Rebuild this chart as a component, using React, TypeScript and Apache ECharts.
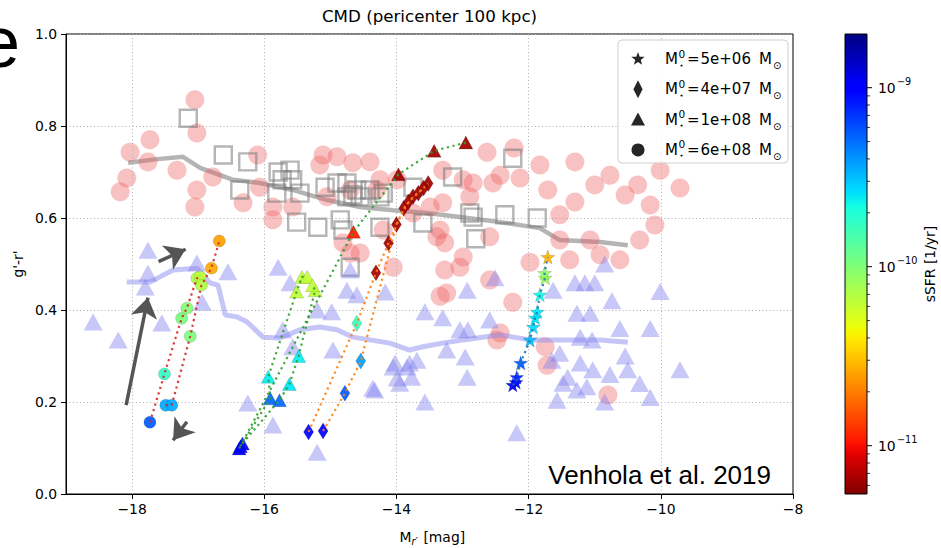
import React, { useEffect, useRef } from "react";
import * as echarts from "echarts";

// ---------- axes / ticks ----------
const X_MIN = -19;
const X_MAX = -8;
const X_TICKS = [-18, -16, -14, -12, -10, -8];
const Y_MIN = 0;
const Y_MAX = 1;
const Y_STEP = 0.2;
const CB_MIN = -11.27; // log10 sSFR at colorbar bottom
const CB_MAX = -8.7; // log10 sSFR at colorbar top
const CB_TICKS = [-11, -10, -9];
const CB_MINOR_DECADES = [-12, -11, -10, -9];

// ---------- observational background (x = M_r', y = g'-r') ----------
const PINK_CIRCLES = [
  [-17.05, 0.857], [-17.02, 0.785], [-17.73, 0.77], [-18.03, 0.743], [-17.76, 0.722], [-17.32, 0.704],
  [-18.08, 0.687], [-18.18, 0.657], [-17.02, 0.661], [-17.05, 0.624], [-16.78, 0.689], [-16.32, 0.633],
  [-16.1, 0.737], [-15.87, 0.596], [-15.11, 0.737], [-15.16, 0.715], [-14.66, 0.72], [-14.4, 0.722],
  [-14.81, 0.546], [-14.7, 0.524], [-13.99, 0.683], [-14.25, 0.683], [-13.3, 0.704], [-12.89, 0.646],
  [-13.39, 0.559], [-12.99, 0.515], [-14.9, 0.733], [-14.55, 0.524], [-14.2, 0.574], [-14.05, 0.493],
  [-12.99, 0.683], [-12.84, 0.676], [-13.49, 0.624], [-13.3, 0.633], [-13.34, 0.574], [-13.27, 0.546],
  [-13.27, 0.487], [-13.04, 0.493], [-13.24, 0.437], [-13.34, 0.43], [-12.54, 0.676], [-12.59, 0.465],
  [-12.48, 0.335], [-15.05, 0.646], [-14.7, 0.661], [-14.3, 0.661], [-13.75, 0.611], [-15.87, 0.624],
  [-16.07, 0.667], [-15.57, 0.624], [-12.63, 0.743], [-12.22, 0.752], [-12.43, 0.693], [-12.13, 0.687],
  [-11.83, 0.715], [-11.71, 0.661], [-11.53, 0.607], [-11.3, 0.722], [-11.3, 0.635], [-11.0, 0.672],
  [-10.77, 0.693], [-10.54, 0.65], [-10.35, 0.672], [-10.16, 0.628], [-10.09, 0.585], [-10.01, 0.704],
  [-9.71, 0.665], [-11.53, 0.552], [-11.07, 0.552], [-10.92, 0.52], [-10.62, 0.509], [-10.32, 0.552],
  [-10.8, 0.215], [-12.59, 0.559], [-11.98, 0.504], [-12.24, 0.417], [-12.43, 0.35], [-11.75, 0.32],
  [-11.72, 0.28], [-11.38, 0.509],
];

const GRAY_SQUARES = [
  [-17.15, 0.817], [-16.62, 0.737], [-16.25, 0.722], [-16.37, 0.661], [-15.79, 0.7], [-15.61, 0.704],
  [-15.73, 0.683], [-15.57, 0.683], [-15.46, 0.654], [-15.81, 0.654], [-15.08, 0.667], [-14.75, 0.676],
  [-14.66, 0.65], [-14.55, 0.646], [-14.25, 0.646], [-14.4, 0.661], [-15.51, 0.591], [-15.19, 0.58],
  [-14.85, 0.596], [-14.25, 0.58], [-13.15, 0.689], [-12.84, 0.602], [-12.8, 0.555], [-14.9, 0.676],
  [-14.75, 0.646], [-14.6, 0.661], [-14.2, 0.654], [-13.75, 0.667], [-12.89, 0.611], [-14.81, 0.574],
  [-14.7, 0.493], [-13.6, 0.589], [-12.24, 0.73], [-12.36, 0.607], [-11.87, 0.6],
];

const GRAY_LINE = [
  [-18.06, 0.72], [-17.62, 0.728], [-17.23, 0.733], [-16.97, 0.709], [-16.47, 0.683], [-16.07, 0.676],
  [-15.57, 0.661], [-15.05, 0.639], [-14.55, 0.624], [-14.05, 0.617], [-13.54, 0.611], [-13.04, 0.602],
  [-12.43, 0.591], [-11.83, 0.578], [-11.53, 0.552], [-10.92, 0.548], [-10.5, 0.541],
];

const LAV_TRIANGLES = [
  [-18.59, 0.374], [-18.21, 0.335], [-17.76, 0.53], [-17.76, 0.48], [-17.8, 0.45], [-17.55, 0.372],
  [-17.02, 0.502], [-16.55, 0.483], [-15.79, 0.493], [-15.61, 0.459], [-16.25, 0.198], [-15.87, 0.15],
  [-15.72, 0.357], [-15.57, 0.32], [-16.94, 0.417], [-15.2, 0.4], [-14.98, 0.396], [-14.96, 0.313],
  [-14.75, 0.443], [-14.6, 0.433], [-14.7, 0.487], [-14.17, 0.439], [-14.36, 0.23], [-14.02, 0.285],
  [-13.84, 0.276], [-13.77, 0.254], [-13.99, 0.252], [-15.2, 0.091], [-12.93, 0.443], [-12.51, 0.47],
  [-13.57, 0.396], [-13.3, 0.383], [-12.59, 0.378], [-13.04, 0.357], [-12.92, 0.357], [-14.05, 0.276],
  [-13.8, 0.285], [-13.69, 0.291], [-13.24, 0.313], [-12.96, 0.298], [-12.93, 0.254], [-13.95, 0.241],
  [-14.33, 0.226], [-13.57, 0.2], [-11.63, 0.443], [-11.3, 0.459], [-11.15, 0.459], [-11.0, 0.459],
  [-11.27, 0.393], [-11.07, 0.393], [-11.53, 0.306], [-11.65, 0.291], [-11.22, 0.341], [-11.04, 0.335],
  [-11.22, 0.285], [-11.41, 0.254], [-11.48, 0.241], [-11.27, 0.226], [-11.12, 0.233], [-11.03, 0.27],
  [-11.57, 0.204], [-10.85, 0.5], [-10.74, 0.42], [-10.62, 0.36], [-10.54, 0.3], [-10.5, 0.27],
  [-10.77, 0.26], [-10.32, 0.24], [-10.16, 0.21], [-10.01, 0.44], [-10.16, 0.36], [-9.71, 0.27],
  [-12.18, 0.133], [-10.85, 0.2],
];

const LAV_LINE = [
  [-18.08, 0.461], [-17.73, 0.461], [-17.58, 0.472], [-17.38, 0.487], [-17.02, 0.491], [-16.82, 0.459],
  [-16.7, 0.454], [-16.59, 0.389], [-16.41, 0.385], [-16.26, 0.374], [-16.02, 0.341], [-15.76, 0.339],
  [-15.46, 0.357], [-15.16, 0.363], [-14.9, 0.357], [-14.66, 0.341], [-14.4, 0.335], [-14.1, 0.328],
  [-13.8, 0.313], [-13.6, 0.32], [-13.3, 0.328], [-12.99, 0.335], [-12.43, 0.346], [-11.98, 0.335],
  [-11.48, 0.335], [-10.92, 0.335], [-10.5, 0.33],
];

// ---------- simulated tracks: [M_r', g'-r', log10 sSFR] ----------
const CIRCLE_TRACK_A = [
  [-17.73, 0.156, -9.25], [-17.51, 0.261, -9.75], [-17.25, 0.382, -9.98], [-17.17, 0.404, -10.0],
  [-17.02, 0.469, -10.15], [-16.97, 0.472, -10.18],
];
const CIRCLE_TRACK_B = [
  [-17.49, 0.193, -9.45], [-17.4, 0.193, -9.45], [-17.12, 0.343, -9.98], [-16.95, 0.454, -10.15],
  [-16.8, 0.491, -10.58], [-16.68, 0.55, -10.6],
];
const TRIANGLE_TRACK_A = [
  [-16.38, 0.099, -9.0], [-15.91, 0.208, -9.28], [-15.94, 0.255, -9.62], [-15.51, 0.44, -10.2],
  [-15.43, 0.472, -10.2], [-15.35, 0.472, -10.2],
];
const TRIANGLE_TRACK_B = [
  [-16.33, 0.11, -9.0], [-15.77, 0.204, -9.28], [-15.62, 0.239, -9.6], [-15.48, 0.3, -9.62],
  [-15.23, 0.443, -10.2], [-15.27, 0.454, -10.2],
];
const TRIANGLE_TRACK_C = [
  [-16.36, 0.104, -9.0], [-14.65, 0.57, -10.97], [-13.97, 0.695, -11.2], [-13.43, 0.746, -11.2],
  [-12.95, 0.764, -11.2],
];
const DIAMOND_TRACK_A = [
  [-15.33, 0.135, -9.0], [-14.6, 0.371, -9.78], [-14.31, 0.481, -11.18], [-14.12, 0.545, -11.2],
  [-13.89, 0.621, -11.2], [-13.75, 0.646, -11.2], [-13.59, 0.665, -11.2],
];
const DIAMOND_TRACK_B = [
  [-15.11, 0.137, -9.0], [-14.78, 0.219, -9.25], [-14.54, 0.289, -9.42], [-14.0, 0.586, -11.2],
  [-13.82, 0.635, -11.2], [-13.67, 0.654, -11.2], [-13.52, 0.675, -11.2],
];
const STAR_TRACK = [
  [-12.24, 0.237, -9.0], [-12.19, 0.243, -9.05], [-12.18, 0.254, -9.1], [-12.12, 0.285, -9.25],
  [-11.98, 0.335, -9.5], [-11.93, 0.363, -9.58], [-11.9, 0.383, -9.6], [-11.87, 0.396, -9.6],
  [-11.83, 0.433, -9.65], [-11.75, 0.47, -10.1], [-11.76, 0.48, -10.05], [-11.71, 0.515, -10.55],
];

// annotation arrows [tail, head] in data coordinates
const ARROWS = [
  [[-18.09, 0.193], [-17.76, 0.427]],
  [[-17.6, 0.505], [-17.19, 0.532]],
  [[-17.17, 0.157], [-17.38, 0.117]],
];

const LEGEND_MASSES = ["5e+06", "4e+07", "1e+08", "6e+08"];
const LEGEND_SYMBOLS = ["star", "diamond", "triangle", "circle"];

// ---------- helpers ----------
const FONT = "'DejaVu Sans', sans-serif";
const GRID = { left: 66, right: 148, top: 34, bottom: 54 };
const PLOT_W = 941 - GRID.left - GRID.right;
const PLOT_CX = GRID.left + PLOT_W / 2;
const CB = { x: 845, y: 34, w: 22, h: 460 };

const JET_R = [[0, 0], [0.35, 0], [0.66, 1], [0.89, 1], [1, 0.5]];
const JET_G = [[0, 0], [0.125, 0], [0.375, 1], [0.64, 1], [0.91, 0], [1, 0]];
const JET_B = [[0, 0.5], [0.11, 1], [0.34, 1], [0.65, 0], [1, 0]];
function pw(pts: number[][], t: number) {
  for (let i = 1; i < pts.length; i++) {
    if (t <= pts[i][0]) {
      const [x0, y0] = pts[i - 1];
      const [x1, y1] = pts[i];
      return y0 + ((y1 - y0) * (t - x0)) / (x1 - x0);
    }
  }
  return pts[pts.length - 1][1];
}
function jet(t: number) {
  const c = Math.max(0, Math.min(1, t));
  const r = Math.round(pw(JET_R, c) * 255);
  const g = Math.round(pw(JET_G, c) * 255);
  const b = Math.round(pw(JET_B, c) * 255);
  return `rgb(${r},${g},${b})`;
}
// colormap reversed: high sSFR = blue (top), low sSFR = dark red (bottom)
function ssfrColor(v: number) {
  return jet((CB_MAX - v) / (CB_MAX - CB_MIN));
}
function cbY(v: number) {
  return CB.y + ((CB_MAX - v) / (CB_MAX - CB_MIN)) * CB.h;
}
function starPoints(cx: number, cy: number, ro: number, ri: number) {
  const pts: number[][] = [];
  for (let i = 0; i < 10; i++) {
    const a = -Math.PI / 2 + (i * Math.PI) / 5;
    const r = i % 2 === 0 ? ro : ri;
    pts.push([cx + r * Math.cos(a), cy + r * Math.sin(a)]);
  }
  return pts;
}
const STAR_PATH =
  "path://M0,-10L2.35,-3.24L9.51,-3.09L3.8,1.24L5.88,8.09L0,4L-5.88,8.09L-3.8,1.24L-9.51,-3.09L-2.35,-3.24Z";

function simScatter(data: number[][], symbol: string, size: any) {
  return {
    type: "scatter",
    data,
    symbol,
    symbolSize: size,
    z: 5,
    silent: true,
    itemStyle: {
      color: (p: any) => ssfrColor(p.value[2]),
      opacity: 0.92,
      borderColor: "rgba(0,0,0,0.25)",
      borderWidth: 0.6,
    },
  };
}
function simLine(data: number[][], color: string) {
  return {
    type: "line",
    data: data.map((d) => [d[0], d[1]]),
    symbol: "none",
    z: 6,
    silent: true,
    lineStyle: { color, width: 2.2, type: [2.2, 3.6], opacity: 0.9 },
  };
}

function buildGraphic() {
  const g: any[] = [];
  const txt = (x: number, y: number, text: string, size: number, extra: any = {}, el: any = {}) =>
    g.push({
      type: "text",
      x,
      y,
      z: 100,
      silent: true,
      ...el,
      style: {
        text,
        fontSize: size,
        fontFamily: FONT,
        fill: "#000",
        align: "left",
        verticalAlign: "middle",
        ...extra,
      },
    });

  // cut-off slide letter (partly outside the picture, as in the reference)
  g.push({
    type: "text",
    x: -20,
    y: 42,
    z: 100,
    silent: true,
    style: { text: "e", fontSize: 72, fontFamily: "'Liberation Sans', Arial, sans-serif", fill: "#000", verticalAlign: "middle" },
  });
  // title
  txt(PLOT_CX, 16, "CMD (pericenter 100 kpc)", 16.7, { align: "center" });
  // x label  M_{r'} [mag]
  txt(PLOT_CX - 30, 537, "M", 13.9);
  txt(PLOT_CX - 18, 541, "r′", 9.7, { fontStyle: "italic" });
  txt(PLOT_CX - 10.5, 537, " [mag]", 13.9);
  // y label
  txt(18, GRID.top + (548 - GRID.top - GRID.bottom) / 2, "g'-r'", 13.9, { align: "center" }, { rotation: Math.PI / 2 });
  // citation
  txt(771, 475, "Venhola et al. 2019", 26, { align: "right", fontFamily: "'Liberation Sans', Arial, sans-serif" });

  // legend
  g.push({
    type: "rect",
    z: 99,
    silent: true,
    shape: { x: 618, y: 40, width: 170, height: 123, r: 4 },
    style: { fill: "rgba(255,255,255,0.85)", stroke: "#d0d0d0", lineWidth: 1 },
  });
  LEGEND_MASSES.forEach((m, i) => {
    const y = 59 + i * 30.3;
    const cx = 638;
    const sym = LEGEND_SYMBOLS[i];
    const fill = { fill: "#262626" };
    if (sym === "star") g.push({ type: "polygon", z: 100, silent: true, shape: { points: starPoints(cx, y, 7, 2.9) }, style: fill });
    if (sym === "diamond")
      g.push({ type: "polygon", z: 100, silent: true, shape: { points: [[cx, y - 9], [cx + 4.6, y], [cx, y + 9], [cx - 4.6, y]] }, style: fill });
    if (sym === "triangle")
      g.push({ type: "polygon", z: 100, silent: true, shape: { points: [[cx, y - 7], [cx + 7, y + 6], [cx - 7, y + 6]] }, style: fill });
    if (sym === "circle") g.push({ type: "circle", z: 100, silent: true, shape: { cx, cy: y, r: 6.5 }, style: fill });
    txt(665, y, "M", 15);
    txt(678.5, y - 5.5, "0", 10.5);
    txt(679, y + 6, "⋆", 8);
    txt(687, y, "=", 15);
    txt(700.5, y, m, 15);
    txt(759, y, "M", 15);
    txt(773, y + 6.5, "⊙", 10);
  });

  // colorbar
  const stops = Array.from({ length: 81 }, (_, i) => ({ offset: i / 80, color: jet(i / 80) }));
  g.push({
    type: "rect",
    z: 50,
    silent: true,
    shape: { x: CB.x, y: CB.y, width: CB.w, height: CB.h },
    style: { fill: new echarts.graphic.LinearGradient(0, 0, 0, 1, stops), stroke: "#000", lineWidth: 1 },
  });
  CB_TICKS.forEach((d) => {
    const y = cbY(d);
    g.push({ type: "line", z: 51, silent: true, shape: { x1: CB.x + CB.w, y1: y, x2: CB.x + CB.w + 5, y2: y }, style: { stroke: "#000", lineWidth: 1 } });
    txt(878, y, "10", 13.9);
    txt(897, y - 6, "−" + Math.abs(d), 9.7);
  });
  CB_MINOR_DECADES.forEach((d) => {
    for (let k = 2; k <= 9; k++) {
      const v = d + Math.log10(k);
      if (v > CB_MIN && v < CB_MAX) {
        const y = cbY(v);
        g.push({ type: "line", z: 51, silent: true, shape: { x1: CB.x + CB.w, y1: y, x2: CB.x + CB.w + 3, y2: y }, style: { stroke: "#000", lineWidth: 0.8 } });
      }
    }
  });
  txt(930, CB.y + CB.h / 2, "sSFR [1/yr]", 13.9, { align: "center" }, { rotation: Math.PI / 2 });
  return g;
}

function buildOption() {
  const axisText = { color: "#000", fontSize: 13.9, fontFamily: FONT };
  return {
    animation: false,
    backgroundColor: "#fff",
    grid: { ...GRID, show: true, borderColor: "#000", borderWidth: 1, containLabel: false },
    xAxis: {
      type: "value",
      min: X_MIN,
      max: X_MAX,
      axisLine: { show: true, onZero: false, lineStyle: { color: "#000", width: 1 } },
      axisTick: { show: true, length: 5, customValues: X_TICKS, lineStyle: { color: "#000" } },
      axisLabel: {
        ...axisText,
        margin: 8,
        customValues: X_TICKS,
        formatter: (v: number) => (v < 0 ? "−" + Math.abs(v) : String(v)),
      },
      splitLine: { show: false },
    },
    yAxis: {
      type: "value",
      min: Y_MIN,
      max: Y_MAX,
      interval: Y_STEP,
      axisLine: { show: true, onZero: false, lineStyle: { color: "#000", width: 1 } },
      axisTick: { show: true, length: 5, lineStyle: { color: "#000" } },
      axisLabel: { ...axisText, margin: 9, formatter: (v: number) => v.toFixed(1) },
      splitLine: { show: true, lineStyle: { color: "#b0b0b0", type: [1, 2.5], width: 1 } },
    },
    series: [
      {
        type: "scatter",
        data: PINK_CIRCLES,
        symbol: "circle",
        symbolSize: 19,
        z: 2,
        silent: true,
        itemStyle: { color: "rgb(240,95,95)", opacity: 0.38 },
        markLine: {
          silent: true,
          symbol: "none",
          label: { show: false },
          lineStyle: { color: "#b0b0b0", type: [1, 2.5], width: 1 },
          data: X_TICKS.filter((v) => v > X_MIN && v < X_MAX).map((v) => ({ xAxis: v })),
        },
      },
      {
        type: "scatter",
        data: GRAY_SQUARES,
        symbol: "rect",
        symbolSize: 17,
        z: 2,
        silent: true,
        itemStyle: { color: "rgba(0,0,0,0)", borderColor: "rgb(120,120,120)", borderWidth: 2.4, opacity: 0.55 },
      },
      {
        type: "line",
        data: GRAY_LINE,
        symbol: "none",
        z: 2,
        silent: true,
        lineStyle: { color: "rgb(140,140,140)", width: 4.5, opacity: 0.65 },
      },
      {
        type: "scatter",
        data: LAV_TRIANGLES,
        symbol: "triangle",
        symbolSize: [19, 17],
        z: 3,
        silent: true,
        itemStyle: { color: "rgb(130,130,240)", opacity: 0.45 },
      },
      {
        type: "line",
        data: LAV_LINE,
        symbol: "none",
        z: 3,
        silent: true,
        lineStyle: { color: "rgb(140,140,240)", width: 5, opacity: 0.5 },
      },
      simScatter(CIRCLE_TRACK_A, "circle", 12),
      simScatter(CIRCLE_TRACK_B, "circle", 12),
      simScatter(TRIANGLE_TRACK_A, "triangle", [14, 13]),
      simScatter(TRIANGLE_TRACK_B, "triangle", [14, 13]),
      simScatter(TRIANGLE_TRACK_C, "triangle", [14, 13]),
      simScatter(DIAMOND_TRACK_A, "diamond", [10, 16]),
      simScatter(DIAMOND_TRACK_B, "diamond", [10, 16]),
      simScatter(STAR_TRACK, STAR_PATH, 14),
      simLine(CIRCLE_TRACK_A, "#d62728"),
      simLine(CIRCLE_TRACK_B, "#d62728"),
      simLine(TRIANGLE_TRACK_A, "#2ca02c"),
      simLine(TRIANGLE_TRACK_B, "#2ca02c"),
      simLine(TRIANGLE_TRACK_C, "#2ca02c"),
      simLine(DIAMOND_TRACK_A, "#ff7f0e"),
      simLine(DIAMOND_TRACK_B, "#ff7f0e"),
      simLine(STAR_TRACK, "#1f77b4"),
      {
        type: "lines",
        coordinateSystem: "cartesian2d",
        z: 8,
        silent: true,
        symbol: ["none", "arrow"],
        symbolSize: 20,
        lineStyle: { color: "#555", width: 3.5, opacity: 1, curveness: 0 },
        data: ARROWS.map((a) => ({ coords: a })),
      },
    ],
    graphic: buildGraphic(),
  };
}

export default function App() {
  const ref = useRef<HTMLDivElement>(null);
  useEffect(() => {
    const chart = echarts.init(ref.current!, null, { renderer: "svg" });
    chart.setOption(buildOption() as any);
    return () => chart.dispose();
  }, []);
  return (
    <div
      ref={ref}
      style={{ position: "fixed", left: 0, top: 0, width: 941, height: 548, background: "#fff" }}
    />
  );
}
